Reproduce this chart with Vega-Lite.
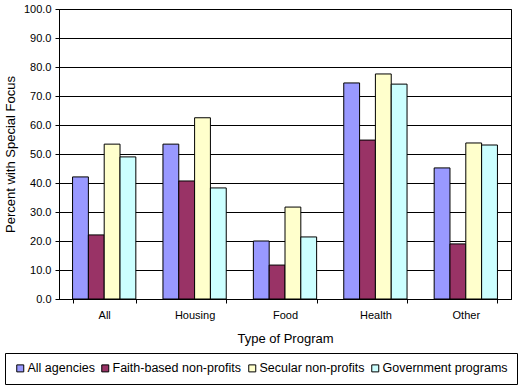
{
  "$schema": "https://vega.github.io/schema/vega-lite/v6.json",
  "width": 452,
  "height": 290,
  "autosize": "none",
  "padding": {"left": 59, "top": 9, "right": 13, "bottom": 91},
  "background": "white",
  "config": {
    "font": "Liberation Sans",
    "view": {"stroke": "black", "strokeWidth": 1},
    "axis": {
      "domainColor": "black",
      "tickColor": "black",
      "labelColor": "black",
      "titleColor": "black",
      "labelFont": "Liberation Sans",
      "titleFont": "Liberation Sans",
      "labelFontSize": 11,
      "titleFontSize": 13,
      "titleFontWeight": "normal",
      "tickSize": 4
    }
  },
  "data": {
    "values": [
      {"program": "All", "agency": "All agencies", "percent": 42.1},
      {"program": "All", "agency": "Faith-based non-profits", "percent": 22.1},
      {"program": "All", "agency": "Secular non-profits", "percent": 53.4},
      {"program": "All", "agency": "Government programs", "percent": 49.0},
      {"program": "Housing", "agency": "All agencies", "percent": 53.4},
      {"program": "Housing", "agency": "Faith-based non-profits", "percent": 40.7},
      {"program": "Housing", "agency": "Secular non-profits", "percent": 62.5},
      {"program": "Housing", "agency": "Government programs", "percent": 38.3},
      {"program": "Food", "agency": "All agencies", "percent": 20.0},
      {"program": "Food", "agency": "Faith-based non-profits", "percent": 11.7},
      {"program": "Food", "agency": "Secular non-profits", "percent": 31.7},
      {"program": "Food", "agency": "Government programs", "percent": 21.4},
      {"program": "Health", "agency": "All agencies", "percent": 74.5},
      {"program": "Health", "agency": "Faith-based non-profits", "percent": 54.8},
      {"program": "Health", "agency": "Secular non-profits", "percent": 77.6},
      {"program": "Health", "agency": "Government programs", "percent": 74.1},
      {"program": "Other", "agency": "All agencies", "percent": 45.2},
      {"program": "Other", "agency": "Faith-based non-profits", "percent": 19.0},
      {"program": "Other", "agency": "Secular non-profits", "percent": 53.8},
      {"program": "Other", "agency": "Government programs", "percent": 53.1}
    ]
  },
  "mark": {"type": "bar", "stroke": "black", "strokeWidth": 1},
  "encoding": {
    "x": {
      "field": "program",
      "type": "nominal",
      "sort": ["All", "Housing", "Food", "Health", "Other"],
      "scale": {"paddingInner": 0.3, "paddingOuter": 0.15},
      "axis": {
        "title": "Type of Program",
        "labelAngle": 0,
        "tickBand": "extent",
        "labelPadding": 6,
        "titlePadding": 12
      }
    },
    "xOffset": {
      "field": "agency",
      "type": "nominal",
      "sort": ["All agencies", "Faith-based non-profits", "Secular non-profits", "Government programs"],
      "scale": {"paddingInner": 0, "paddingOuter": 0}
    },
    "y": {
      "field": "percent",
      "type": "quantitative",
      "scale": {"domain": [0, 100], "nice": false},
      "axis": {
        "title": "Percent with Special Focus",
        "values": [0, 10, 20, 30, 40, 50, 60, 70, 80, 90, 100],
        "format": ".1f",
        "grid": true,
        "gridColor": "black",
        "gridOpacity": 1,
        "labelPadding": 4,
        "titleX": -49,
        "titleY": 145,
        "titleAlign": "center",
        "titleBaseline": "middle",
        "titleAngle": -90
      }
    },
    "color": {
      "field": "agency",
      "type": "nominal",
      "sort": ["All agencies", "Faith-based non-profits", "Secular non-profits", "Government programs"],
      "scale": {
        "domain": ["All agencies", "Faith-based non-profits", "Secular non-profits", "Government programs"],
        "range": ["#9999FF", "#993366", "#FFFFCC", "#CCFFFF"]
      },
      "legend": {
        "title": null,
        "orient": "none",
        "legendX": -54,
        "legendY": 344,
        "direction": "horizontal",
        "symbolType": "square",
        "symbolSize": 49,
        "symbolStrokeColor": "black",
        "symbolStrokeWidth": 1,
        "symbolOpacity": 1,
        "labelFontSize": 12.5,
        "labelFont": "Liberation Sans",
        "labelColor": "black",
        "labelOffset": 1,
        "labelLimit": 200,
        "columnPadding": 4,
        "padding": 9,
        "strokeColor": "black",
        "fillColor": "white"
      }
    }
  }
}
